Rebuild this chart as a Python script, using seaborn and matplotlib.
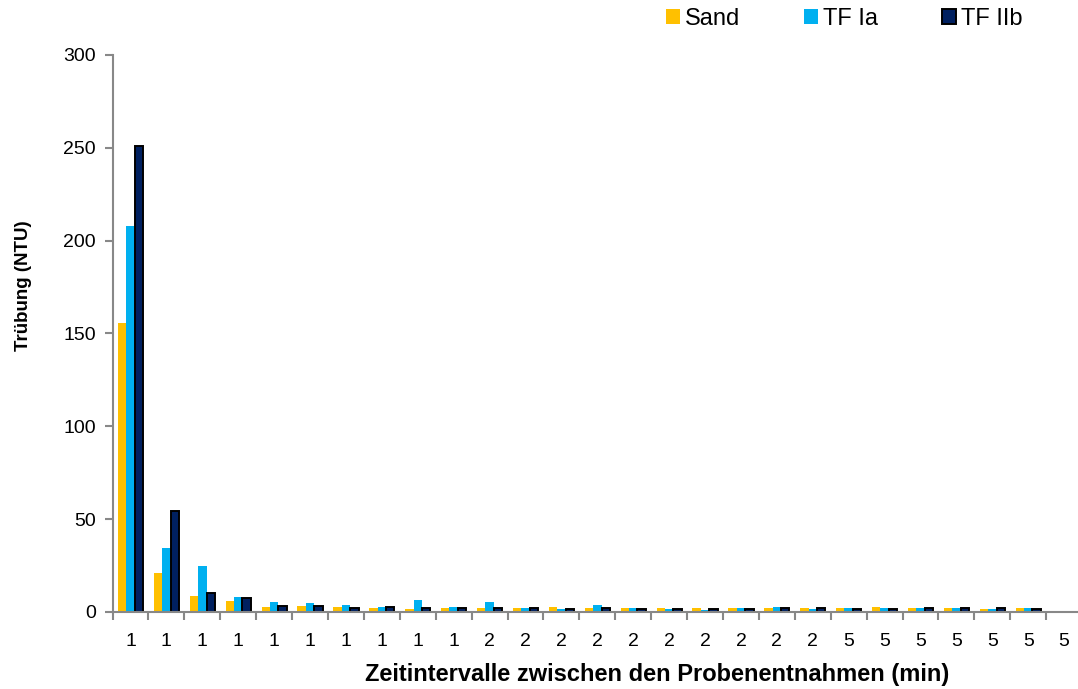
import matplotlib
matplotlib.use("Agg")
import matplotlib.pyplot as plt
from matplotlib.patches import Patch
import seaborn as sns
import pandas as pd
import numpy as np

# ---- data ----
interval_labels = ["1"] * 10 + ["2"] * 10 + ["5"] * 7
series_names = ["Sand", "TF Ia", "TF IIb"]
sand = [155.5, 21, 8.8, 5.7, 2.7, 3.0, 2.5, 2.0, 1.8, 2.1,
        2.3, 2.1, 2.5, 2.0, 2.3, 2.3, 2.0, 2.1, 2.3, 2.3,
        2.3, 2.8, 2.3, 2.3, 1.8, 2.1, 0.6]
tf_ia = [208, 34.5, 24.8, 8.0, 5.2, 4.8, 3.9, 2.9, 6.3, 2.8,
         5.2, 2.1, 1.4, 4.0, 2.3, 1.8, 1.3, 2.3, 2.8, 1.8,
         2.3, 2.3, 2.3, 2.3, 1.8, 2.1, 0.0]
tf_iib = [251, 54.2, 10.2, 7.5, 3.0, 3.2, 2.3, 2.5, 2.0, 2.3,
          2.3, 2.1, 1.8, 2.3, 1.8, 1.6, 1.8, 1.6, 2.3, 2.3,
          1.6, 1.6, 2.3, 2.3, 2.3, 1.8, 0.0]
colors = ["#FFC000", "#00B0F0", "#002060"]

n = len(interval_labels)
df = pd.DataFrame({
    "pos": np.tile(np.arange(n), 3),
    "serie": np.repeat(series_names, n),
    "val": sand + tf_ia + tf_iib,
})

sns.set_theme(style="white")
plt.rcParams["font.family"] = ["Liberation Sans", "DejaVu Sans"]
plt.rcParams["text.color"] = "black"
plt.rcParams["axes.labelcolor"] = "black"
plt.rcParams["xtick.color"] = "black"
plt.rcParams["ytick.color"] = "black"

fig = plt.figure(figsize=(10.78, 6.89), dpi=100)
ax = fig.add_axes([0.1044, 0.1118, 0.8994, 0.8084])

sns.barplot(data=df, x="pos", y="val", hue="serie", hue_order=series_names,
            palette=colors, width=0.7, gap=0, ax=ax, legend=False,
            saturation=1, linewidth=0, native_scale=False)

for p in ax.containers[2]:
    p.set_edgecolor("black")
    p.set_linewidth(1.4)

ax.set_xlim(-0.5, n - 0.5)
ax.set_ylim(0, 300)
ax.set_yticks(range(0, 301, 50))
ax.set_xticks(np.arange(n))
ax.set_xticklabels(interval_labels)
ax.set_xticks(np.arange(n + 1) - 0.5, minor=True)
ax.tick_params(axis="x", which="major", length=0, pad=15, labelsize=14, labelcolor="black")
ax.tick_params(axis="x", which="minor", length=6, width=1.5, color="#888888", bottom=True)
ax.tick_params(axis="y", which="major", length=6, width=1.5, color="#888888",
               left=True, labelsize=14, labelcolor="black", pad=6)

for s in ["top", "right"]:
    ax.spines[s].set_visible(False)
for s in ["left", "bottom"]:
    ax.spines[s].set_color("#888888")
    ax.spines[s].set_linewidth(1.5)

ax.set_xlabel("Zeitintervalle zwischen den Probenentnahmen (min)", fontsize=17,
              fontweight="bold", color="black")
ax.xaxis.set_label_coords(0.562, -0.092)
ax.set_ylabel("Trübung (NTU)", fontsize=13.5, fontweight="bold", color="black")
ax.yaxis.set_label_coords(-0.083, 0.586)

handles = [Patch(facecolor=colors[0], edgecolor="none"),
           Patch(facecolor=colors[1], edgecolor="none"),
           Patch(facecolor=colors[2], edgecolor="black", linewidth=1.4)]
fig.legend(handles, series_names, loc="center left", bbox_to_anchor=(0.618, 0.973),
           ncol=3, frameon=False, fontsize=17, handlelength=0.6, handleheight=0.6,
           handletextpad=0.2, columnspacing=2.7, borderaxespad=0, borderpad=0)

fig.savefig("out.png", dpi=100)
